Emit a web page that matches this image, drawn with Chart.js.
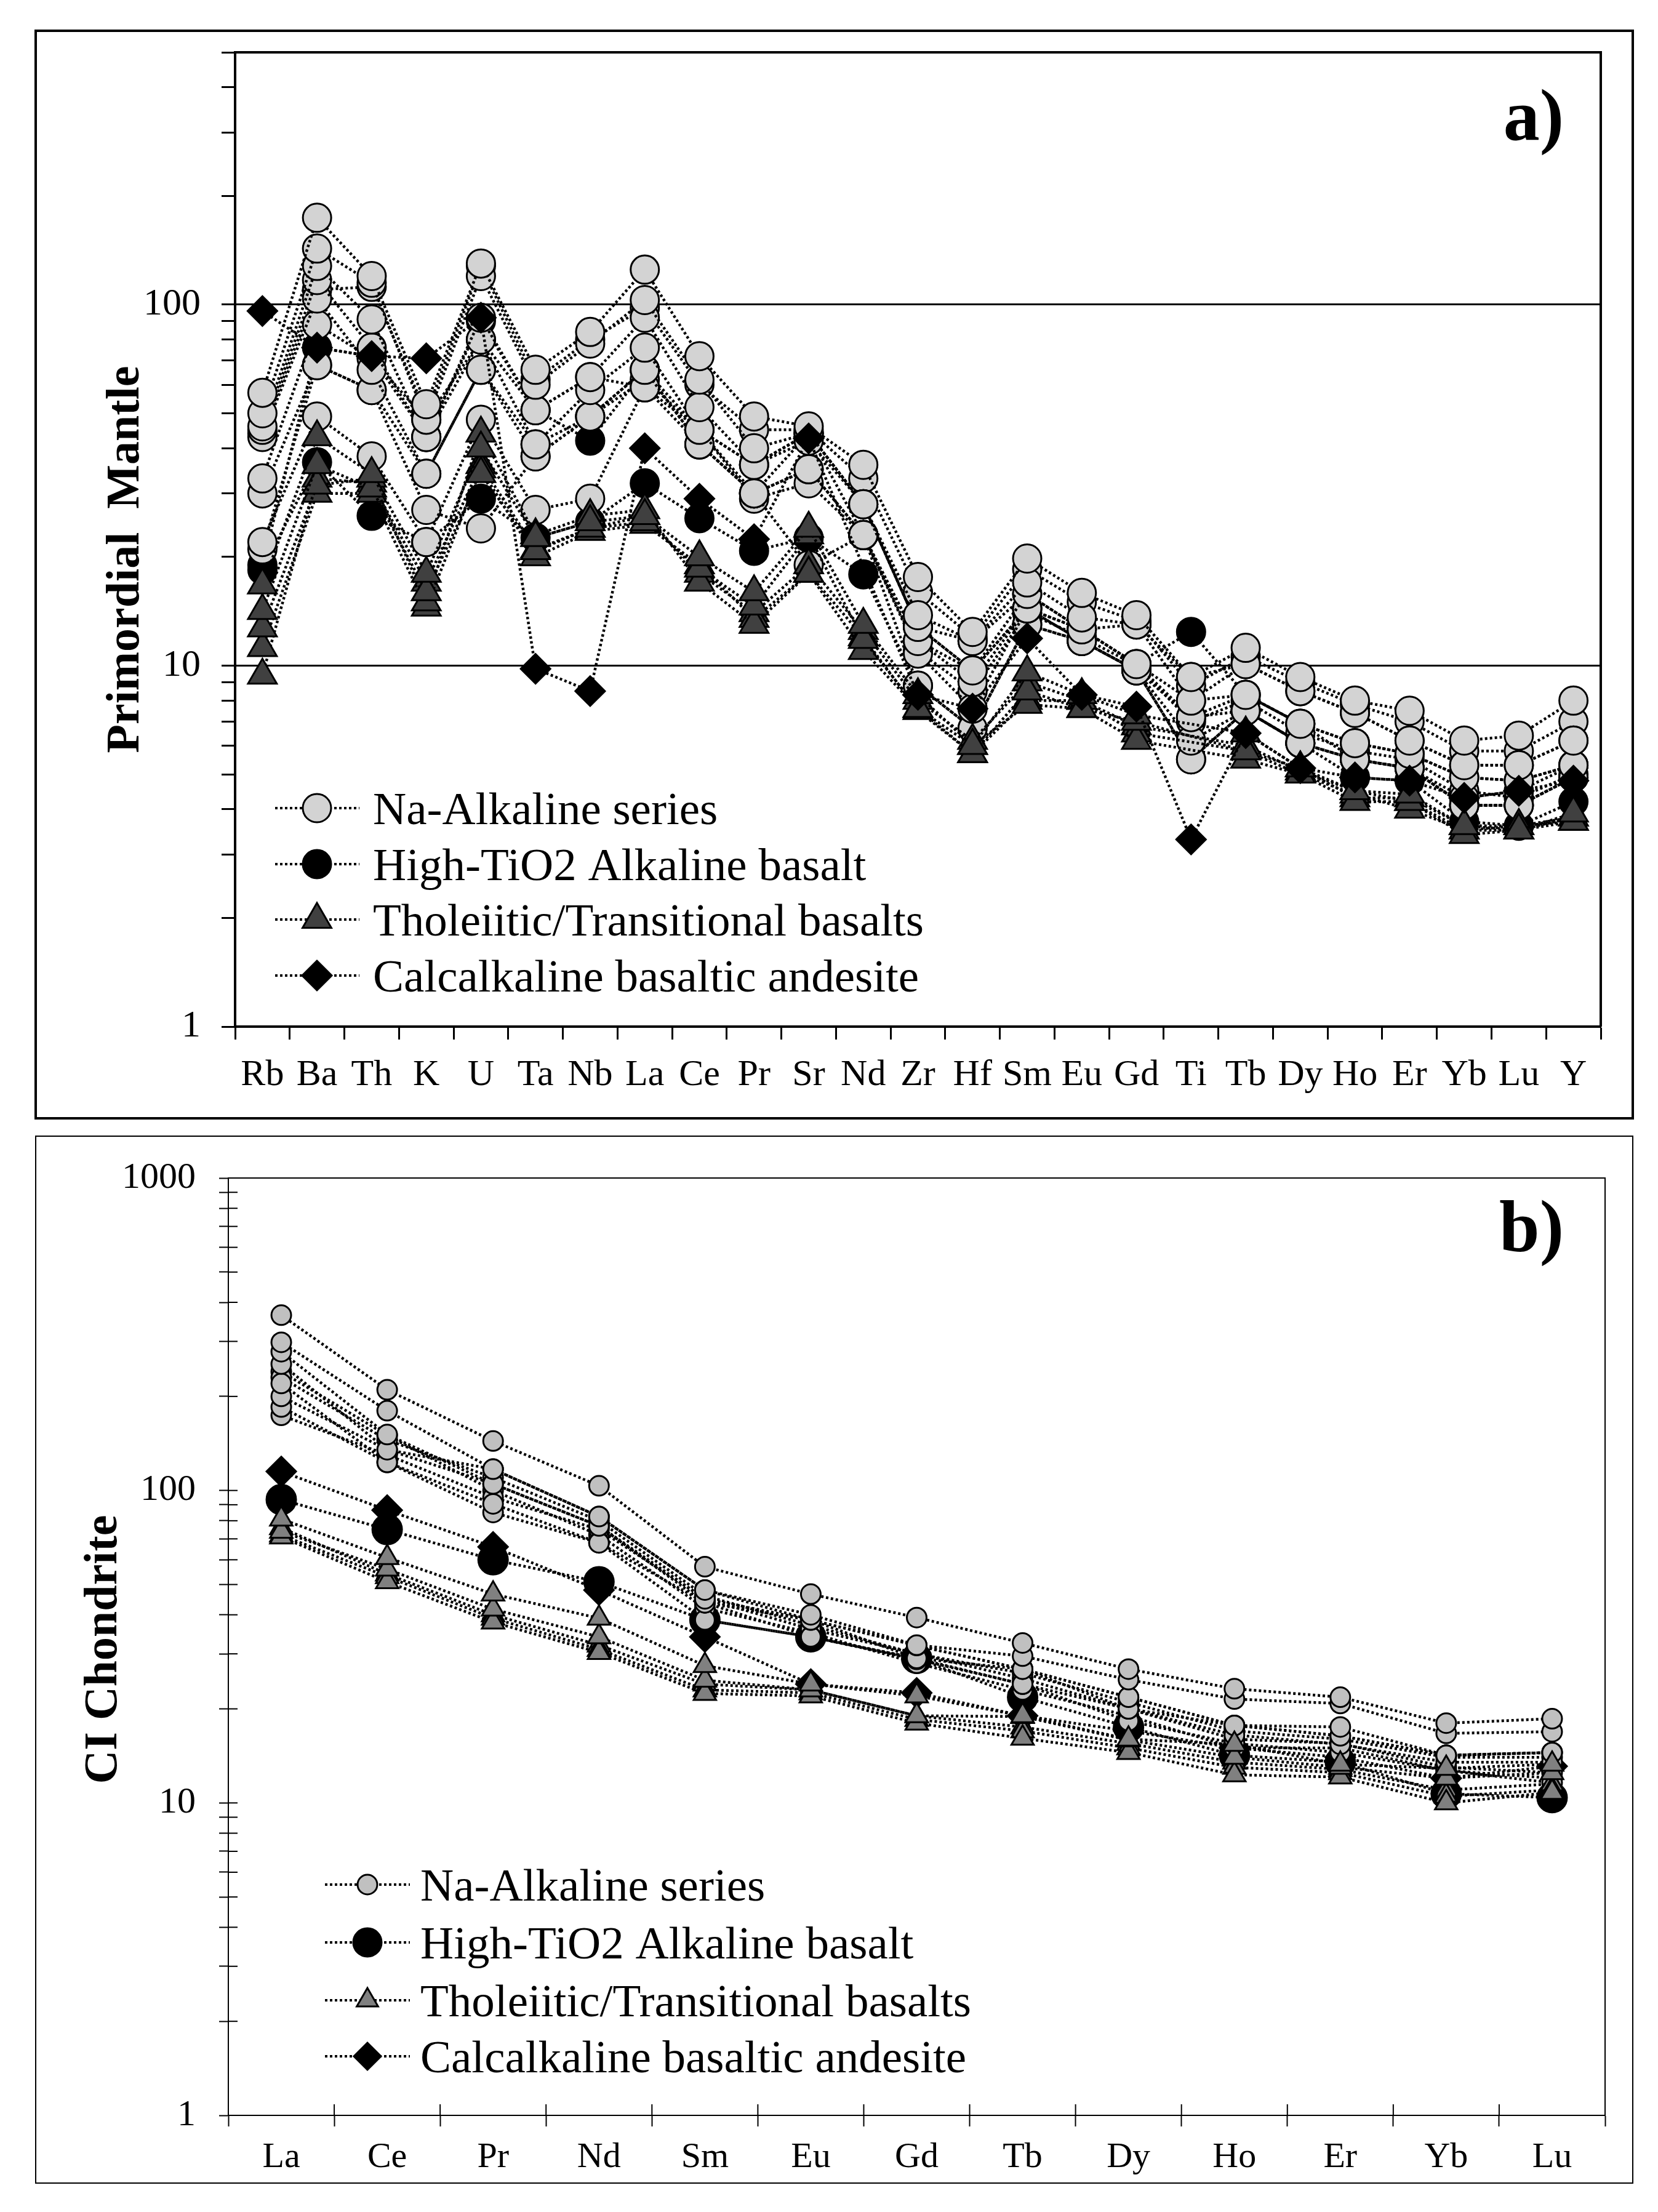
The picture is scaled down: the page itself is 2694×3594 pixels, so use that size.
<!DOCTYPE html>
<html><head><meta charset="utf-8">
<script src="https://cdn.jsdelivr.net/npm/chart.js@4.4.1/dist/chart.umd.min.js"></script>
<style>
html,body{margin:0;padding:0;background:#fff;}
body{width:2694px;height:3594px;position:relative;overflow:hidden;}
.box{position:absolute;box-sizing:border-box;border-style:solid;border-color:#000;}
#boxA{left:56px;top:48px;width:2599px;height:1771px;border-width:4px;}
#boxB{left:57px;top:1845px;width:2597px;height:1703px;border-width:2px;}
canvas{position:absolute;left:0;}
#cA{top:0;}
#cB{top:1840px;}
</style></head>
<body>
<div class="box" id="boxA"></div>
<div class="box" id="boxB"></div>
<canvas id="cA" width="2694" height="1830"></canvas>
<canvas id="cB" width="2694" height="1740"></canvas>
<script>
// ---------- Panel a : Primordial mantle normalised ----------
const elementsA = ['Rb','Ba','Th','K','U','Ta','Nb','La','Ce','Pr','Sr','Nd','Zr','Hf','Sm','Eu','Gd','Ti','Tb','Dy','Ho','Er','Yb','Lu','Y'];
const naAlkalineA = [
  [57,174,120,53,130,66,84,125,72,49,46,36,17.6,12.4,19.8,15.9,13.8,9.3,11.2,9.3,8.0,7.5,6.2,6.4,8.0],
  [50,143,115,48,120,60,78,103,62,40,44,28,13.8,11.7,17.0,13.6,13.0,8.0,10.1,8.5,7.4,6.2,5.3,5.3,6.2],
  [46,128,91,43,92,51,63,92,52,36,42,28,12.8,9.7,15.8,12.6,10.1,7.2,8.3,6.9,6.1,5.7,4.9,4.8,5.3],
  [45,117,76,43,80,41,58,76,45,30,44,23,11.7,9.0,14.4,11.7,9.7,6.2,7.5,6.1,5.5,5.2,4.1,4.1,4.9],
  [43,104,66,34,66,38,49,66,41,30,35,23,10.8,7.6,14.4,11.7,9.7,5.5,7.5,6.1,5.5,5.2,4.3,4.5,5.3],
  [33,88,71,48,80,51,63,59,45,36,44,28,12.8,11.7,15.8,12.6,13.0,9.3,10.1,8.5,7.4,6.2,5.3,5.3,6.2],
  [30,68,58,34,66,41,49,66,41,30,35,23,11.7,9.7,14.4,12.6,10.1,8.0,8.3,6.9,6.1,5.7,4.9,4.8,5.3],
  [44,110,112,50,128,62,80,98,60,45,45,33,16.0,12.0,18.5,15.0,13.3,8.8,10.6,9.0,7.8,7.0,5.8,5.8,7.0],
  [22,49,38,22,48,27,29,59,41,30,19,23,8.8,6.7,13.0,11.7,9.7,5.5,7.5,6.1,5.5,5.2,4.1,4.1,4.9],
  [21,68,58,27,24,38,49,62,45,29,32,23,11.0,8.5,14.0,12.0,10.0,7.0,8.0,6.5,5.8,5.5,4.5,4.3,5.0]
];
const highTiA = [
  [18.4,36.6,26,22,29,22.6,25,32,25.6,20.8,22.6,17.9,8.8,6.7,13.0,11.7,9.7,7.2,7.5,6.1,4.9,4.8,3.7,3.6,4.2],
  [19,76,72,43,90,51,42,66,45,36,44,28,12.8,9.7,14.4,12.6,10.1,12.4,8.3,6.9,5.5,5.2,4.1,4.1,4.9]
];
const tholeiiticA = [
  [16.7,43,34,18,40,22.6,25,26,20,16,24,13,8.3,6.0,9.6,8.3,7.3,null,6.5,5.2,4.5,4.4,3.6,3.5,3.9],
  [14.2,36,31,16,34,20.8,24,25,18.6,14.6,23,11.8,7.6,5.7,8.5,7.6,7.0,null,5.8,5.0,4.2,4.2,3.4,3.5,3.7],
  [12.7,31.6,33,15,44,23,26,27,17,13,18,11,7.6,6.0,7.8,7.6,6.2,null,5.5,5.0,4.4,4.0,3.5,3.6,3.7],
  [11.2,30,30,14.5,35,20,23.5,24.6,19,13.5,18,12,7.5,5.7,8.0,8.0,6.5,null,5.8,5.2,4.3,4.3,3.6,3.6,3.8],
  [9.4,33,32,17,36,21,24,26,18,14,19,12.5,8.0,6.2,9.0,8.0,6.8,null,6.0,5.1,4.5,4.2,3.5,3.5,3.8]
];
const calcAlkalineA = [
  [96,76,72,71,92,9.8,8.5,40,29,22.4,42.6,null,8.3,7.6,11.9,8.3,7.7,3.3,6.5,5.2,4.9,4.8,4.3,4.5,4.8]
];
const tickValsA = [1,2,3,4,5,6,7,8,9,10,20,30,40,50,60,70,80,90,100,200,300,400,500];
const labelValsA = [1,10,100];
const gridValsA = [10,100];

// ---------- Panel b : CI chondrite normalised REE ----------
const elementsB = ['La','Ce','Pr','Nd','Sm','Eu','Gd','Tb','Dy','Ho','Er','Yb','Lu'];
const naAlkalineB = [
  [364,210,144,103.5,57,46.6,39.2,32.5,26.8,23.2,21.8,18,18.6],
  [298,180,117,82.5,48,40,32,29.5,24.8,21.5,20.8,16.7,16.9],
  [278,151,105,77,45,38.5,31.9,26.8,21.8,17.7,17.5,14.2,14.5],
  [254,135,117,82.5,48,38.5,29,26.8,20,17.7,16.4,14.2,14.5],
  [220,123,90.6,68,43.7,34,29,24,20,16.5,15.4,13.5,13.5],
  [200,135,105,77,43.7,38.5,31.9,26.8,21.8,17.7,16.4,14.2,14.5],
  [185,123,85,68,38.5,34,28.8,24,18.3,15.5,14.5,12.7,11.6],
  [174,130,95,75,45,36,30,26,21,17,16,14,14],
  [230,145,110,80,46,37,30,25,20,16,15.5,13,12.5],
  [240,150,100,72,42,35,28,23,19,15,15,12.7,12]
];
const highTiB = [
  [93.5,75,60,51,38.5,34,29,21.8,17.5,14.2,13.5,10.7,10.4]
];
const tholeiiticB = [
  [81,61,46.6,39,27.5,24,22,19,16,15.4,13.3,12.9,13.3],
  [74,56,41.7,34,24.7,23,19,18.9,15.9,14,13,12,12.5],
  [71,51,37.9,30.3,22.4,22,18,16.1,14.5,12.3,12.1,10,10.8],
  [72,53,39,31,23,22.5,18.5,17,15,13,12.5,10.5,11],
  [76,54,40,32,24,23,19,17.5,15.5,13.5,12.8,11,11.5]
];
const calcAlkalineB = [
  [115,86.5,66,48,34,24,22.5,19,17,15,14,12,13.1]
];
const tickValsB = [1,2,3,4,5,6,7,8,9,10,20,30,40,50,60,70,80,90,100,200,300,400,500,600,700,800,900,1000];
const labelValsB = [1,10,100,1000];

const seriesNames = ['Na-Alkaline series','High-TiO2 Alkaline basalt','Tholeiitic/Transitional basalts','Calcalkaline basaltic andesite'];

// ---------- helpers ----------
const FONT = '"Liberation Serif", "Times New Roman", serif';

function makeDatasets(groups){
  const ds = [];
  groups.forEach(g => g.samples.forEach(s => ds.push({
    label: g.name, data: s,
    pointStyle: g.style, pointRadius: g.r, pointBackgroundColor: g.fill,
    pointBorderColor: '#000', pointBorderWidth: 3,
    borderColor: '#000', borderWidth: 4.5, borderDash: [4,4],
    fill: false, tension: 0, spanGaps: true
  })));
  return ds;
}

function drawMarker(ctx, style, x, y, r, fill){
  ctx.save();
  ctx.setLineDash([]);
  ctx.fillStyle = fill; ctx.strokeStyle = '#000'; ctx.lineWidth = 3;
  ctx.beginPath();
  if (style === 'circle') ctx.arc(x, y, r, 0, Math.PI*2);
  else if (style === 'triangle') { ctx.moveTo(x, y-r); ctx.lineTo(x+0.866*r, y+0.5*r); ctx.lineTo(x-0.866*r, y+0.5*r); ctx.closePath(); }
  else { ctx.moveTo(x-r, y); ctx.lineTo(x, y-r); ctx.lineTo(x+r, y); ctx.lineTo(x, y+r); ctx.closePath(); }
  ctx.fill(); ctx.stroke();
  ctx.restore();
}

function panelPlugin(cfg){
  return { id: 'panel' + cfg.tag, afterDraw(chart){
    const ctx = chart.ctx, a = chart.chartArea, oy = cfg.offsetY;
    ctx.save();
    ctx.setLineDash([]);
    ctx.strokeStyle = '#000'; ctx.lineWidth = cfg.frameW;
    ctx.beginPath(); ctx.moveTo(a.left, a.top); ctx.lineTo(a.right, a.top); ctx.lineTo(a.right, a.bottom); ctx.stroke();
    if (cfg.cross){
      ctx.lineWidth = 2;
      const ys = chart.scales.y;
      cfg.tickVals.forEach(v => { const py = ys.getPixelForValue(v); ctx.beginPath(); ctx.moveTo(a.left, py); ctx.lineTo(a.left + 15, py); ctx.stroke(); });
      const n = cfg.nCat;
      for (let i = 0; i <= n; i++){ const px = a.left + i*(a.right-a.left)/n; ctx.beginPath(); ctx.moveTo(px, a.bottom); ctx.lineTo(px, a.bottom - 18); ctx.stroke(); }
    }
    // panel tag
    ctx.fillStyle = '#000';
    ctx.font = 'bold 118px ' + FONT; ctx.textAlign = 'right'; ctx.textBaseline = 'alphabetic';
    ctx.fillText(cfg.tag + ')', cfg.tagX, cfg.tagY - oy);
    // y title
    ctx.save();
    ctx.translate(cfg.titleX, cfg.titleY - oy); ctx.rotate(-Math.PI/2);
    ctx.font = 'bold ' + cfg.titleSize + 'px ' + FONT; ctx.textAlign = 'center';
    ctx.fillText(cfg.title, 0, 0);
    ctx.restore();
    // legend
    cfg.legend.forEach((L, i) => {
      const y = cfg.legRows[i] - oy;
      ctx.save();
      ctx.strokeStyle = '#000'; ctx.lineWidth = 4; ctx.setLineDash([4,4]);
      ctx.beginPath(); ctx.moveTo(cfg.legX1, y); ctx.lineTo(cfg.legX2, y); ctx.stroke();
      ctx.restore();
      drawMarker(ctx, L.style, cfg.legMX, y, L.r, L.fill);
      ctx.font = '75px ' + FONT; ctx.textAlign = 'left'; ctx.textBaseline = 'alphabetic'; ctx.fillStyle = '#000';
      ctx.fillText(seriesNames[i], cfg.legTX, y + 26);
    });
    ctx.restore();
  }};
}

// ---------- Chart a ----------  (first group is drawn on top)
const groupsA = [
  {name: seriesNames[3], samples: calcAlkalineA, style: 'rectRot', r: 24, fill: '#000'},
  {name: seriesNames[2], samples: tholeiiticA, style: 'triangle', r: 27, fill: '#404040'},
  {name: seriesNames[0], samples: naAlkalineA, style: 'circle', r: 23, fill: '#d3d3d3'},
  {name: seriesNames[1], samples: highTiA, style: 'circle', r: 23, fill: '#000'}
];
new Chart(document.getElementById('cA'), {
  type: 'line',
  data: { labels: elementsA, datasets: makeDatasets(groupsA) },
  options: {
    responsive: false, animation: false, devicePixelRatio: 1, events: [],
    layout: { padding: { top: 85, right: 93, left: 0, bottom: 0 } },
    plugins: { legend: { display: false }, tooltip: { enabled: false } },
    scales: {
      x: { type: 'category', offset: true,
        grid: { offset: true, drawOnChartArea: false, drawTicks: true, tickLength: 21, tickWidth: 3, tickColor: '#000', color: '#000' },
        border: { display: true, color: '#000', width: 4 },
        ticks: { color: '#000', font: { family: FONT, size: 60 }, padding: 22, autoSkip: false, maxRotation: 0 },
        afterFit(s){ s.height = 162; } },
      y: { type: 'logarithmic', min: 1, max: 500,
        afterBuildTicks(s){ s.ticks = tickValsA.map(v => ({ value: v })); },
        ticks: { color: '#000', font: { family: FONT, size: 62 }, padding: 34, autoSkip: false,
          callback: (v) => labelValsA.includes(v) ? String(v) : '' },
        grid: { color: (c) => (c.tick && gridValsA.includes(c.tick.value)) ? '#000' : 'rgba(0,0,0,0)', lineWidth: 3,
          tickColor: '#000', tickWidth: 3, tickLength: 22, drawTicks: true },
        border: { display: true, color: '#000', width: 4 },
        afterFit(s){ s.width = 382; } }
    }
  },
  plugins: [panelPlugin({
    tag: 'a', offsetY: 0, frameW: 4, cross: false,
    tagX: 2541, tagY: 227,
    title: 'Primordial  Mantle', titleSize: 76, titleX: 225, titleY: 909,
    legRows: [1313, 1404, 1494, 1585], legX1: 447, legX2: 584, legMX: 515, legTX: 606,
    legend: [ {style: 'circle', r: 23, fill: '#d3d3d3'}, {style: 'circle', r: 23, fill: '#000'},
              {style: 'triangle', r: 27, fill: '#404040'}, {style: 'rectRot', r: 24, fill: '#000'} ]
  })]
});

// ---------- Chart b ----------  (first group is drawn on top)
const groupsB = [
  {name: seriesNames[2], samples: tholeiiticB, style: 'triangle', r: 21, fill: '#808080'},
  {name: seriesNames[0], samples: naAlkalineB, style: 'circle', r: 16, fill: '#c0c0c0'},
  {name: seriesNames[3], samples: calcAlkalineB, style: 'rectRot', r: 24, fill: '#000'},
  {name: seriesNames[1], samples: highTiB, style: 'circle', r: 24, fill: '#000'}
];
new Chart(document.getElementById('cB'), {
  type: 'line',
  data: { labels: elementsB, datasets: makeDatasets(groupsB) },
  options: {
    responsive: false, animation: false, devicePixelRatio: 1, events: [],
    layout: { padding: { top: 42, right: 86, left: 0, bottom: 0 } },
    plugins: { legend: { display: false }, tooltip: { enabled: false } },
    scales: {
      x: { type: 'category', offset: true,
        grid: { offset: true, drawOnChartArea: false, drawTicks: true, tickLength: 18, tickWidth: 2, tickColor: '#000', color: '#000' },
        border: { display: true, color: '#000', width: 2 },
        ticks: { color: '#000', font: { family: FONT, size: 58 }, padding: 16, autoSkip: false, maxRotation: 0 },
        afterFit(s){ s.height = 143; } },
      y: { type: 'logarithmic', min: 1, max: 1000,
        afterBuildTicks(s){ s.ticks = tickValsB.map(v => ({ value: v })); },
        ticks: { color: '#000', font: { family: FONT, size: 60 }, padding: 38, autoSkip: false,
          callback: (v) => labelValsB.includes(v) ? String(v) : '' },
        grid: { color: 'rgba(0,0,0,0)', tickColor: '#000', tickWidth: 2, tickLength: 15, drawTicks: true },
        border: { display: true, color: '#000', width: 2 },
        afterFit(s){ s.width = 371; } }
    }
  },
  plugins: [panelPlugin({
    tag: 'b', offsetY: 1840, frameW: 2, cross: true, tickVals: tickValsB, nCat: elementsB.length,
    tagX: 2541, tagY: 2032,
    title: 'CI Chondrite', titleSize: 76, titleX: 189, titleY: 2680,
    legRows: [3062, 3156, 3250, 3341], legX1: 528, legX2: 666, legMX: 597, legTX: 683,
    legend: [ {style: 'circle', r: 16, fill: '#c0c0c0'}, {style: 'circle', r: 23, fill: '#000'},
              {style: 'triangle', r: 20, fill: '#808080'}, {style: 'rectRot', r: 22, fill: '#000'} ]
  })]
});
</script>
</body></html>
